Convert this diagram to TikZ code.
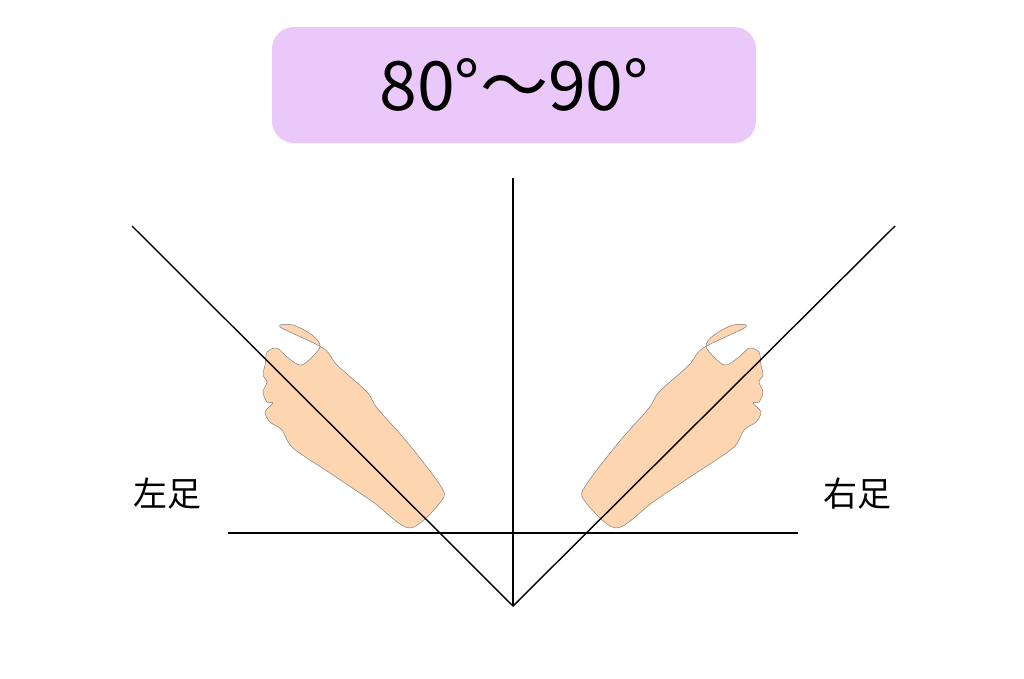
\documentclass[tikz,border=0pt]{standalone}
\usepackage{fontspec}
\newfontfamily\cjk{Noto Sans CJK JP}
\definecolor{titlepurple}{HTML}{EBC8FA}
\definecolor{skin}{HTML}{FDD5B1}
\tikzset{
  axisline/.style={black, line width=1.4pt},
  footshape/.style={fill=skin, draw=gray, line width=0.5pt},
  sidelabel/.style={font=\cjk\fontsize{34}{40}\selectfont}
}
\newcommand{\footpath}{
  plot[smooth cycle, tension=0.5] coordinates {
    (280,327) (293,325) (312,335) (320,347) (302,365) (287,357) (277,348)
    (267,352) (265,365) (263,375) (267,382) (263,392) (267,402) (273,403)
    (265,412) (270,422) (282,430) (293,448) (333,475) (373,502) (410,528)
    (442,500) (440,485) (407,442) (377,408) (367,392) (337,365) (323,348)}
}
\begin{document}
\begin{tikzpicture}[x=1pt, y=-1pt]
  \useasboundingbox (0,0) rectangle (1024,678);
  % The title:
  \node[fill=titlepurple, rounded corners=22pt, minimum width=484pt, minimum height=116pt,
        font=\cjk\fontsize{68}{76}\selectfont] (title) at (514,85) {80°〜90°};
  % The feet:
  \draw[footshape] \footpath;
  \begin{scope}[xshift=1026pt, xscale=-1]
    \draw[footshape] \footpath;
  \end{scope}
  % The lines:
  \coordinate (apex) at (513,606);
  \coordinate (top) at (513,178);
  \coordinate (lefttop) at (132,226);
  \coordinate (righttop) at (895,226);
  \coordinate (baseL) at (228,533);
  \coordinate (baseR) at (798,533);
  \draw[axisline] (apex) -- (top);
  \draw[axisline] (baseL) -- (baseR);
  \draw[axisline] (lefttop) -- (apex) -- (righttop);
  % Labels:
  \node[sidelabel] (leftfoot) at (167,494) {左足};
  \node[sidelabel] (rightfoot) at (857,494) {右足};
\end{tikzpicture}
\end{document}
